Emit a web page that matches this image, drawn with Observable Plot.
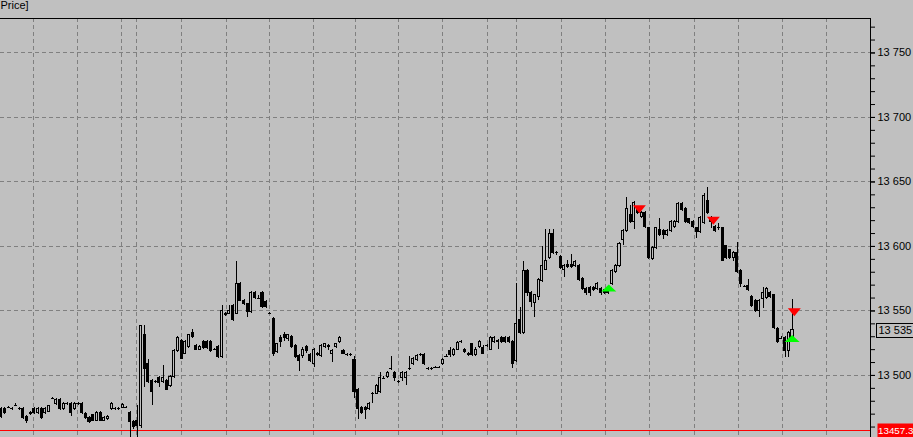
<!DOCTYPE html>
<html><head><meta charset="utf-8">
<script src="https://cdn.jsdelivr.net/npm/d3@7"></script>
<script src="https://cdn.jsdelivr.net/npm/@observablehq/plot@0.6"></script>
<style>html,body{margin:0;padding:0;background:#c0c0c0;overflow:hidden}</style>
</head><body><div id="chart"></div>
<script>
// OHLC prices, one entry per bar (index 0..215)
const opens = [
13474,13474,13475,13474,13477,13474,13474,13468,13470,13474,
13471,13474,13471,13472,13482,13478,13481,13474,13478,13478,
13474,13478,13478,13470,13467,13469,13465,13471,13465,13466,
13474,13474,13474,13475,13475,13471,13464,13465,13461,13531,
13509,13496,13495,13498,13495,13496,13492,13499,13519,13527,
13517,13522,13533,13523,13520,13526,13526,13526,13520,13522,
13514,13547,13548,13554,13548,13571,13558,13555,13549,13564,
13560,13564,13557,13548,13544,13518,13529,13531,13528,13530,
13523,13515,13515,13522,13516,13509,13517,13515,13522,13523,
13517,13522,13526,13519,13516,13516,13512,13489,13475,13475,
13474,13486,13486,13487,13498,13499,13505,13502,13495,13498,
13498,13505,13509,13512,13516,13516,13505,13505,13506,13506,
13509,13515,13519,13516,13520,13526,13520,13517,13524,13516,
13522,13521,13523,13520,13526,13527,13529,13529,13529,13526,
13511,13543,13533,13581,13564,13556,13561,13573,13582,13591,
13610,13595,13592,13582,13586,13586,13585,13585,13575,13567,
13568,13568,13567,13567,13566,13566,13571,13580,13585,13605,
13612,13624,13619,13630,13623,13626,13614,13590,13599,13613,
13612,13609,13612,13615,13619,13633,13629,13621,13619,13614,
13611,13618,13635,13622,13615,13615,13614,13600,13597,13591,
13595,13581,13569,13569,13561,13558,13550,13559,13560,13564,
13562,13536,13529,13529,13519,13528];
const highs = [
13475,13475,13476,13475,13478,13475,13475,13469,13472,13475,
13475,13475,13475,13477,13483,13482,13482,13479,13479,13479,
13479,13479,13479,13471,13468,13470,13472,13472,13468,13469,
13479,13475,13475,13478,13476,13472,13465,13477,13539,13539,
13512,13497,13496,13499,13508,13497,13500,13520,13530,13528,
13527,13532,13536,13524,13523,13527,13527,13527,13521,13523,
13554,13549,13554,13555,13588,13572,13559,13556,13565,13565,
13562,13565,13558,13549,13545,13525,13531,13533,13532,13531,
13524,13516,13522,13523,13517,13521,13518,13524,13525,13524,
13520,13525,13530,13520,13517,13517,13515,13490,13476,13476,
13479,13487,13493,13502,13499,13503,13515,13503,13496,13503,
13503,13515,13514,13516,13517,13517,13506,13506,13507,13507,
13513,13516,13522,13521,13526,13527,13521,13518,13525,13522,
13527,13523,13524,13530,13530,13528,13530,13530,13530,13527,
13571,13553,13588,13582,13565,13563,13575,13600,13613,13613,
13613,13596,13593,13586,13589,13594,13589,13586,13576,13568,
13569,13569,13572,13568,13567,13567,13582,13586,13603,13613,
13638,13632,13635,13631,13627,13627,13615,13600,13615,13622,
13613,13613,13620,13620,13634,13634,13630,13622,13620,13615,
13623,13641,13646,13623,13616,13618,13615,13601,13598,13596,
13603,13582,13570,13574,13562,13559,13559,13568,13568,13565,
13563,13537,13530,13530,13534,13559];
const lows = [
13467,13470,13474,13473,13476,13473,13466,13463,13469,13470,
13470,13466,13470,13471,13481,13477,13473,13473,13477,13468,
13473,13477,13470,13466,13463,13464,13464,13464,13464,13465,
13473,13473,13473,13474,13474,13449,13458,13449,13459,13491,
13494,13477,13494,13491,13494,13488,13491,13498,13518,13512,
13516,13521,13529,13519,13519,13520,13520,13518,13519,13513,
13513,13546,13547,13542,13547,13557,13554,13545,13548,13559,
13559,13552,13552,13547,13515,13517,13522,13526,13526,13521,
13513,13503,13513,13517,13510,13506,13515,13514,13521,13519,
13510,13521,13525,13516,13515,13515,13482,13466,13470,13466,
13473,13478,13485,13486,13497,13498,13504,13495,13494,13495,
13492,13504,13508,13511,13515,13508,13504,13504,13505,13505,
13508,13514,13514,13515,13519,13525,13517,13515,13515,13515,
13521,13516,13522,13519,13525,13520,13525,13525,13525,13505,
13510,13532,13532,13561,13553,13545,13558,13572,13581,13590,
13594,13593,13582,13576,13583,13583,13584,13573,13566,13562,
13561,13565,13566,13562,13563,13563,13570,13579,13584,13601,
13611,13618,13613,13625,13622,13614,13590,13589,13598,13608,
13605,13608,13611,13614,13618,13627,13618,13617,13614,13606,
13610,13617,13625,13614,13611,13612,13588,13590,13590,13588,
13579,13568,13568,13565,13553,13549,13545,13552,13559,13560,
13536,13525,13528,13514,13514,13527];
const closes = [
13468,13471,13475,13474,13477,13474,13467,13465,13471,13471,
13474,13467,13474,13476,13482,13481,13474,13478,13478,13471,
13478,13478,13471,13467,13464,13465,13471,13465,13467,13468,
13478,13474,13474,13477,13475,13464,13460,13461,13538,13505,
13495,13487,13495,13494,13498,13489,13499,13519,13529,13513,
13526,13531,13530,13520,13522,13521,13521,13519,13520,13514,
13550,13548,13550,13543,13571,13558,13555,13549,13564,13560,
13560,13553,13553,13548,13517,13524,13526,13529,13531,13522,
13514,13511,13520,13519,13511,13520,13516,13523,13524,13522,
13519,13524,13529,13517,13516,13516,13487,13474,13471,13473,
13478,13486,13492,13498,13498,13502,13505,13498,13495,13502,
13502,13505,13513,13515,13516,13509,13505,13505,13506,13506,
13512,13515,13516,13520,13525,13526,13518,13516,13516,13520,
13526,13517,13523,13529,13529,13526,13526,13526,13526,13509,
13540,13533,13581,13564,13557,13562,13574,13585,13589,13610,
13595,13595,13583,13585,13584,13584,13588,13574,13567,13564,
13564,13566,13571,13564,13564,13564,13581,13585,13602,13612,
13629,13619,13634,13626,13626,13615,13591,13599,13614,13609,
13609,13612,13619,13619,13633,13628,13619,13618,13615,13611,
13622,13639,13626,13619,13612,13615,13589,13591,13591,13595,
13580,13571,13569,13566,13554,13550,13558,13564,13567,13561,
13537,13526,13529,13519,13533,13535];

// signal arrows (bar index, price)
const sellIdx = [173.4, 193.5, 215.5];
const sellPrice = [13632, 13623, 13552];
const buyIdx = [165.1, 214.9];
const buyPrice = [13565, 13526];

// axes / grid
const majorTicks = [13500, 13550, 13600, 13650, 13700, 13750];
const minorTicks = [13460,13470,13480,13490,13500,13510,13520,13530,13540,13550,13560,13570,13580,13590,13600,13610,13620,13630,13640,13650,13660,13670,13680,13690,13700,13710,13720,13730,13740,13750,13760,13770];
const vGridIdx = [8.8, 20.7, 32.7, 36.8, 49.0, 61.2, 72.9, 84.9, 96.3, 108.0, 119.9, 132.1, 140.0, 152.3, 164.2, 176.2, 188.4, 200.4, 212.3, 224.3];
const xDomain = [-0.19, 236.2];
const yDomain = [13451.9, 13776.7];
const bidPrice = 13457.3;
const bidLabel = "13457.3";
const seriesLabel = "Price]";

const bars = opens.map((o, i) => ({i, open: o, high: highs[i], low: lows[i], close: closes[i]}));
const sells = sellIdx.map((x, k) => ({x, y: sellPrice[k]}));
const buys = buyIdx.map((x, k) => ({x, y: buyPrice[k]}));
const lastClose = closes[closes.length - 1];

const fmt = d3.formatLocale({decimal: ".", thousands: " ", grouping: [3], currency: ["", ""]}).format(",");

const downTri = {draw(c) { c.moveTo(-6.5, 0); c.lineTo(6.5, 0); c.lineTo(0, 8); c.closePath(); }};
const upTri = {draw(c) { c.moveTo(-7.5, 0); c.lineTo(7.5, 0); c.lineTo(0, -7); c.closePath(); }};
const boxSym = {draw(c) { c.rect(6, -7, 44, 14); }};
const bidBox = {draw(c) { c.rect(7, -7, 43, 14); }};

const BG = "#c0c0c0";
const chart = Plot.plot({
  width: 913, height: 437,
  marginLeft: 0, marginRight: 43, marginTop: 18, marginBottom: 0,
  style: {background: BG, fontFamily: "'Liberation Sans', Arial, sans-serif", fontSize: "11px", color: "black", overflow: "hidden"},
  x: {domain: xDomain, axis: null},
  y: {domain: yDomain, axis: null, label: null},
  marks: [
    Plot.ruleY(majorTicks, {stroke: "#808080", strokeDasharray: "4,3", strokeOpacity: 1, shapeRendering: "crispEdges"}),
    Plot.ruleX(vGridIdx, {stroke: "#808080", strokeDasharray: "4,3", strokeOpacity: 1, shapeRendering: "crispEdges"}),
    Plot.ruleY([bidPrice], {stroke: "#ff0000", strokeOpacity: 1, shapeRendering: "crispEdges"}),
    Plot.ruleX(bars, {x: "i", y1: "low", y2: "high", stroke: "black", strokeOpacity: 1, shapeRendering: "crispEdges"}),
    Plot.rect(bars, {filter: d => d.close > d.open, x1: d => d.i - 0.28, x2: d => d.i + 0.28, y1: "open", y2: "close", fill: BG, stroke: "black", shapeRendering: "crispEdges"}),
    Plot.rect(bars, {filter: d => d.close < d.open, x1: d => d.i - 0.28, x2: d => d.i + 0.28, y1: "open", y2: "close", fill: "black", stroke: "black", shapeRendering: "crispEdges"}),
    Plot.ruleY(bars, {filter: d => d.close === d.open, y: "open", x1: d => d.i - 0.42, x2: d => d.i + 0.42, stroke: "black", strokeOpacity: 1, shapeRendering: "crispEdges"}),
    Plot.dot(buys, {x: "x", y: "y", symbol: upTri, fill: "#00ff00", stroke: "none"}),
    Plot.dot(sells, {x: "x", y: "y", symbol: downTri, fill: "#ff0000", stroke: "none"}),
    Plot.frame({anchor: "top", stroke: "black", shapeRendering: "crispEdges"}),
    Plot.frame({anchor: "right", stroke: "black", shapeRendering: "crispEdges"}),
    Plot.axisY(minorTicks, {anchor: "right", tickSize: 4, tickFormat: () => "", label: null, stroke: "black"}),
    Plot.axisY(majorTicks, {anchor: "right", tickSize: 4, tickPadding: 3, tickFormat: fmt, label: null, fill: "black", fontSize: 11}),
    Plot.dot([lastClose], {y: d => d, frameAnchor: "right", symbol: boxSym, fill: BG, stroke: "black", shapeRendering: "crispEdges"}),
    Plot.text([lastClose], {y: d => d, frameAnchor: "right", dx: 8, textAnchor: "start", text: d => fmt(d), fill: "black", fontSize: 11}),
    Plot.dot([bidPrice], {y: d => d, frameAnchor: "right", symbol: bidBox, fill: "#ff0000", stroke: "none"}),
    Plot.text([bidPrice], {y: d => d, frameAnchor: "right", dx: 7.5, textAnchor: "start", text: () => bidLabel, fill: "white", fontSize: 9.8}),
    Plot.text([seriesLabel], {frameAnchor: "top-left", dy: -9.5, textAnchor: "start", lineAnchor: "bottom", fill: "black", fontSize: 11})
  ]
});
document.getElementById("chart").appendChild(chart);
</script>
</body></html>
